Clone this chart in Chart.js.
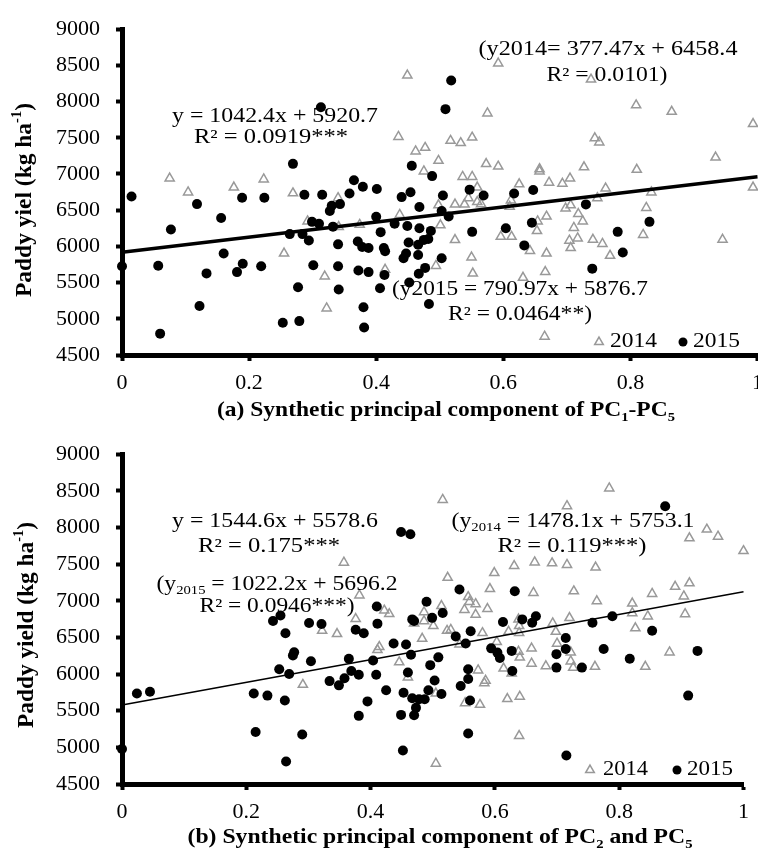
<!DOCTYPE html>
<html>
<head>
<meta charset="utf-8">
<script src="https://cdn.jsdelivr.net/npm/chart.js@4.4.1/dist/chart.umd.min.js"></script>
<style>
  html, body { margin: 0; padding: 0; background: #fff; overflow: hidden; }
  .panel { position: relative; width: 758px; height: 425px; overflow: hidden; }
  canvas { display: block; }
</style>
</head>
<body>
<div class="panel"><canvas id="chartA" width="772" height="425"></canvas></div>
<div class="panel"><canvas id="chartB" width="758" height="425"></canvas></div>
<script>
// Axis ticks
const xTicks = [0, 0.2, 0.4, 0.6, 0.8, 1];
const yTicks = [4500, 5000, 5500, 6000, 6500, 7000, 7500, 8000, 8500, 9000];

// (a) synthetic PC of PC1-PC5 vs paddy yield
const pc15_2014 = [
  [0.075,6940],[0.104,6748],[0.176,6815],[0.223,6927],[0.255,5903],[0.269,6735],[0.292,6347],[0.319,5587],
  [0.322,5146],[0.340,6668],[0.341,6270],[0.374,6300],[0.414,5680],[0.435,7514],[0.437,6437],[0.449,8363],
  [0.462,7314],[0.475,7038],[0.477,7363],[0.494,5733],[0.498,7184],[0.498,6570],[0.501,6294],[0.517,7460],
  [0.524,6580],[0.524,6090],[0.533,7429],[0.536,6962],[0.539,6580],[0.545,6668],[0.550,5849],[0.551,7505],
  [0.551,6962],[0.552,5627],[0.559,6815],[0.559,6615],[0.565,6584],[0.573,7140],[0.575,7839],[0.592,8529],
  [0.592,7104],[0.596,6134],[0.610,6548],[0.612,6637],[0.613,6134],[0.625,6860],[0.631,5569],[0.642,5939],
  [0.653,6214],[0.654,6347],[0.657,7069],[0.657,7038],[0.665,4755],[0.666,5649],[0.668,6414],[0.668,5903],
  [0.672,6882],[0.693,6868],[0.698,6526],[0.704,6081],[0.705,6940],[0.706,6570],[0.706,5979],[0.711,6257],
  [0.717,6112],[0.718,6450],[0.725,6347],[0.727,7095],[0.738,8306],[0.741,6094],[0.744,7496],[0.748,6668],
  [0.751,7438],[0.756,6036],[0.761,6802],[0.768,5872],[0.809,7950],[0.810,7060],[0.820,6161],[0.825,6534],
  [0.833,6748],[0.865,7861],[0.934,7229],[0.945,6094],[0.993,7692],[0.993,6815]
];
const pc15_2015 = [
  [0.000,5725],[0.015,6690],[0.057,5733],[0.060,4795],[0.077,6233],[0.118,6584],[0.122,5178],[0.133,5627],
  [0.156,6393],[0.160,5903],[0.181,5645],[0.189,6673],[0.190,5760],[0.219,5725],[0.224,6673],[0.253,4946],
  [0.264,6170],[0.269,7140],[0.277,5436],[0.279,4968],[0.284,6170],[0.287,6713],[0.294,6081],[0.299,6339],
  [0.301,5739],[0.310,6313],[0.313,7923],[0.315,6713],[0.327,6490],[0.330,6561],[0.332,6273],[0.340,6028],
  [0.340,5725],[0.341,5405],[0.343,6584],[0.358,6730],[0.365,6913],[0.371,6068],[0.372,5667],[0.378,5992],
  [0.379,6824],[0.380,5159],[0.381,4879],[0.388,5979],[0.388,5645],[0.400,6410],[0.401,6793],[0.406,5422],
  [0.407,6197],[0.412,5979],[0.413,5605],[0.414,5934],[0.429,6313],[0.440,6681],[0.443,5836],[0.447,5903],
  [0.449,6281],[0.451,6054],[0.452,5502],[0.454,6748],[0.456,7113],[0.466,6023],[0.466,5880],[0.467,5623],
  [0.468,6544],[0.468,6250],[0.475,6090],[0.477,5703],[0.482,6103],[0.483,5205],[0.486,6214],[0.488,6971],
  [0.503,6490],[0.503,5836],[0.505,6704],[0.509,7896],[0.514,6414],[0.518,8292],[0.547,6784],[0.551,6201],
  [0.569,6704],[0.604,6250],[0.617,6730],[0.633,6014],[0.645,6326],[0.647,6779],[0.730,6580],[0.740,5693],
  [0.780,6201],[0.788,5916],[0.830,6339]
];

// (b) synthetic PC of PC2 and PC5 vs paddy yield
const pc25_2014 = [
  [0.291,5855],[0.322,6592],[0.346,6548],[0.357,7522],[0.376,6754],[0.382,7075],[0.411,6329],[0.414,6372],
  [0.422,6868],[0.430,6820],[0.446,6162],[0.460,5956],[0.470,6693],[0.483,6483],[0.486,6846],[0.486,6723],
  [0.501,6657],[0.505,5736],[0.505,4780],[0.514,6930],[0.516,8378],[0.523,6592],[0.524,7316],[0.529,6605],
  [0.543,6407],[0.551,6877],[0.552,5605],[0.557,7052],[0.559,6987],[0.569,6956],[0.569,6812],[0.573,6052],
  [0.576,5582],[0.580,6561],[0.583,5877],[0.585,5911],[0.588,6890],[0.592,7162],[0.599,7381],[0.603,6438],
  [0.614,6078],[0.620,5661],[0.622,6579],[0.627,6009],[0.631,7477],[0.638,6746],[0.638,6306],[0.639,6657],
  [0.639,6561],[0.639,5157],[0.640,6227],[0.640,5693],[0.659,6351],[0.659,6144],[0.662,7109],[0.664,7526],
  [0.682,6109],[0.692,7513],[0.693,6693],[0.698,6579],[0.700,6417],[0.716,8293],[0.716,7491],[0.720,6767],
  [0.722,6298],[0.722,6175],[0.726,6088],[0.727,7131],[0.761,6101],[0.762,7456],[0.764,6996],[0.784,8535],
  [0.821,6964],[0.821,6833],[0.826,6627],[0.842,6101],[0.846,6789],[0.853,7096],[0.881,6298],[0.890,7193],
  [0.904,7062],[0.906,6819],[0.913,7855],[0.913,7241],[0.941,7973],[0.959,7877],[1.000,7680]
];
const pc25_2015 = [
  [0.000,4977],[0.024,5736],[0.045,5759],[0.212,5736],[0.215,5210],[0.234,5706],[0.243,6723],[0.253,6065],
  [0.255,6798],[0.262,5640],[0.263,6556],[0.264,4806],[0.269,6000],[0.275,6253],[0.277,6298],[0.290,5175],
  [0.301,6697],[0.304,6175],[0.321,6684],[0.334,5904],[0.349,5846],[0.358,5943],[0.365,6210],[0.369,6043],
  [0.376,6605],[0.381,5990],[0.381,5430],[0.389,6556],[0.395,5627],[0.404,6184],[0.409,5990],[0.410,6921],
  [0.411,6688],[0.425,5780],[0.437,6417],[0.449,7938],[0.449,5443],[0.452,4956],[0.453,5745],[0.457,6404],
  [0.460,6022],[0.464,7908],[0.465,6263],[0.467,6746],[0.467,5671],[0.470,6723],[0.470,5437],[0.473,5539],
  [0.478,5657],[0.487,5657],[0.490,6987],[0.493,5780],[0.496,6122],[0.499,6767],[0.503,5911],[0.509,6228],
  [0.514,5727],[0.516,6833],[0.537,6513],[0.543,7154],[0.545,5838],[0.553,6417],[0.557,6065],[0.557,5933],
  [0.557,5188],[0.560,5640],[0.561,6583],[0.594,6351],[0.604,6293],[0.608,6219],[0.613,6710],[0.627,6316],
  [0.628,6043],[0.632,7131],[0.644,6746],[0.660,6701],[0.666,6789],[0.699,6272],[0.699,6088],[0.714,6493],
  [0.714,6342],[0.715,4890],[0.740,6088],[0.757,6701],[0.775,6342],[0.789,6789],[0.817,6210],[0.853,6592],
  [0.874,8289],[0.911,5706],[0.926,6316]
];

// pooled linear fits printed on the figure
const fitSlopes = [1042.4, 1544.6];
const fitIntercepts = [5920.7, 5578.6];

const FONT = '"Liberation Serif", "Times New Roman", serif';

// text with sub/superscripts, stretched to the width it has in the figure
function richText(ctx, parts, cx, cy, size, width, bold) {
  const weight = bold ? 'bold ' : '';
  const segs = parts.map(p => Array.isArray(p) ? { t: p[0], kind: p[1] } : { t: p, kind: '' });
  let total = 0;
  segs.forEach(s => {
    const sz = s.kind ? size * 0.62 : size;
    s.font = `${weight}${sz}px ${FONT}`;
    ctx.font = s.font;
    s.w = ctx.measureText(s.t).width;
    s.dy = s.kind === 'sub' ? size * 0.3 : s.kind === 'sup' ? -size * 0.32 : 0;
    total += s.w;
  });
  const sx = width ? width / total : 1;
  ctx.save();
  ctx.translate(cx - total * sx / 2, cy);
  ctx.scale(sx, 1);
  ctx.textAlign = 'left';
  ctx.textBaseline = 'middle';
  let x = 0;
  segs.forEach(s => {
    ctx.font = s.font;
    ctx.fillText(s.t, x, s.dy);
    x += s.w;
  });
  ctx.restore();
}

const textPlugin = {
  id: 'figureText',
  afterDraw(chart, args, opts) {
    const ctx = chart.ctx;
    ctx.save();
    ctx.fillStyle = '#000';
    opts.texts.forEach(t => richText(ctx, t.parts, t.cx, t.cy, t.size, t.w, t.bold));

    const yt = opts.yTitle;
    ctx.save();
    ctx.translate(yt.cx, yt.cy);
    ctx.rotate(-Math.PI / 2);
    richText(ctx, yt.parts, 0, 0, yt.size, yt.w, true);
    ctx.restore();

    opts.legend.forEach(item => {
      ctx.save();
      ctx.strokeStyle = item.color;
      ctx.fillStyle = item.fill;
      ctx.lineWidth = item.borderWidth;
      Chart.helpers.drawPoint(ctx, { pointStyle: item.style, radius: item.radius, borderWidth: item.borderWidth, rotation: 0 }, item.mx, item.y);
      ctx.restore();
      ctx.fillStyle = '#000';
      richText(ctx, [item.label], item.tx + item.tw / 2, item.y, 20, item.tw, false);
    });
    ctx.restore();
  }
};

const toPoints = arr => arr.map(([x, y]) => ({ x, y }));
const fitLine = i => [0, 1].map(x => ({ x, y: fitIntercepts[i] + fitSlopes[i] * x }));

function makeChart(id, d2014, d2015, fitIdx, fitWidth, box, figText) {
  return new Chart(document.getElementById(id), {
    type: 'scatter',
    data: {
      datasets: [
        {
          label: '2015', data: toPoints(d2015), order: 0, clip: false,
          pointStyle: 'circle', pointRadius: 5, pointHoverRadius: 5,
          backgroundColor: '#000', borderColor: '#000', borderWidth: 0
        },
        {
          label: 'fit', data: fitLine(fitIdx), order: 1, clip: false, showLine: true,
          borderColor: '#000', borderWidth: fitWidth, pointRadius: 0
        },
        {
          label: '2014', data: toPoints(d2014), order: 2, clip: false,
          pointStyle: 'triangle', pointRadius: 5.3, pointHoverRadius: 5.3,
          backgroundColor: 'rgba(0,0,0,0)', borderColor: '#999', borderWidth: 1.5
        }
      ]
    },
    options: {
      responsive: false,
      animation: false,
      events: [],
      layout: { padding: { left: 0, top: box.top, right: box.right, bottom: 0 } },
      plugins: { legend: { display: false }, tooltip: { enabled: false }, figureText: figText },
      scales: {
        x: {
          type: 'linear', min: xTicks[0], max: xTicks[xTicks.length - 1],
          afterBuildTicks: s => { s.ticks = xTicks.map(v => ({ value: v })); },
          afterFit: s => { s.height = box.xHeight; },
          ticks: {
            color: '#000', padding: 9, maxRotation: 0,
            font: { family: FONT, size: 22 },
            callback: v => String(Math.round(v * 10) / 10)
          },
          grid: { display: true, drawOnChartArea: false, drawTicks: true, tickLength: 6, tickWidth: 4, tickColor: '#000' },
          border: { display: true, color: '#000', width: 5 }
        },
        y: {
          type: 'linear', min: yTicks[0], max: yTicks[yTicks.length - 1],
          afterBuildTicks: s => { s.ticks = yTicks.map(v => ({ value: v })); },
          afterFit: s => { s.width = 122; },
          ticks: {
            color: '#000', padding: 16,
            font: { family: FONT, size: 22 },
            callback: v => String(v)
          },
          grid: { display: true, drawOnChartArea: false, drawTicks: true, tickLength: 6, tickWidth: 4, tickColor: '#000' },
          border: { display: true, color: '#000', width: 5 }
        }
      }
    },
    plugins: [textPlugin]
  });
}

makeChart('chartA', pc15_2014, pc15_2015, 0, 3.5,
  { top: 18, right: 11, xHeight: 70 },
  {
    texts: [
      { parts: ['y = 1042.4x + 5920.7'], cx: 275, cy: 117, size: 20, w: 206 },
      { parts: ['R² = 0.0919***'], cx: 271, cy: 138, size: 20, w: 154 },
      { parts: ['(y2014= 377.47x + 6458.4'], cx: 608, cy: 50, size: 20, w: 259 },
      { parts: ['R² = 0.0101)'], cx: 607, cy: 76, size: 20, w: 121 },
      { parts: ['(y2015 = 790.97x + 5876.7'], cx: 520, cy: 290, size: 20, w: 256 },
      { parts: ['R² = 0.0464**)'], cx: 520, cy: 315, size: 20, w: 144 },
      { parts: ['(a) Synthetic principal component of PC', ['1', 'sub'], '-PC', ['5', 'sub']], cx: 446, cy: 411, size: 21, w: 458, bold: true }
    ],
    yTitle: { parts: ['Paddy yiel (kg ha', ['-1', 'sup'], ')'], cx: 25, cy: 200, size: 23, w: 194 },
    legend: [
      { style: 'triangle', radius: 5, color: '#999', fill: 'rgba(0,0,0,0)', borderWidth: 1.5, mx: 599, y: 342, label: '2014', tx: 610, tw: 47 },
      { style: 'circle', radius: 4.5, color: '#000', fill: '#000', borderWidth: 0, mx: 683, y: 342, label: '2015', tx: 693, tw: 47 }
    ]
  });

makeChart('chartB', pc25_2014, pc25_2015, 1, 1.5,
  { top: 17, right: 13, xHeight: 66 },
  {
    texts: [
      { parts: ['y = 1544.6x + 5578.6'], cx: 275, cy: 97, size: 20, w: 206 },
      { parts: ['R² = 0.175***'], cx: 269, cy: 122, size: 20, w: 142 },
      { parts: ['(y', ['2015', 'sub'], ' = 1022.2x + 5696.2'], cx: 277, cy: 160, size: 20, w: 241 },
      { parts: ['R² = 0.0946***)'], cx: 277, cy: 182, size: 20, w: 155 },
      { parts: ['(y', ['2014', 'sub'], ' = 1478.1x + 5753.1'], cx: 573, cy: 97, size: 20, w: 243 },
      { parts: ['R² = 0.119***)'], cx: 572, cy: 122, size: 20, w: 149 },
      { parts: ['(b) Synthetic principal component of PC', ['2', 'sub'], ' and PC', ['5', 'sub']], cx: 440, cy: 413, size: 21, w: 505, bold: true }
    ],
    yTitle: { parts: ['Paddy yield (kg ha', ['-1', 'sup'], ')'], cx: 27, cy: 200, size: 23, w: 206 },
    legend: [
      { style: 'triangle', radius: 5, color: '#999', fill: 'rgba(0,0,0,0)', borderWidth: 1.5, mx: 590, y: 345, label: '2014', tx: 603, tw: 45 },
      { style: 'circle', radius: 4.5, color: '#000', fill: '#000', borderWidth: 0, mx: 677, y: 345, label: '2015', tx: 687, tw: 46 }
    ]
  });
</script>
</body>
</html>
